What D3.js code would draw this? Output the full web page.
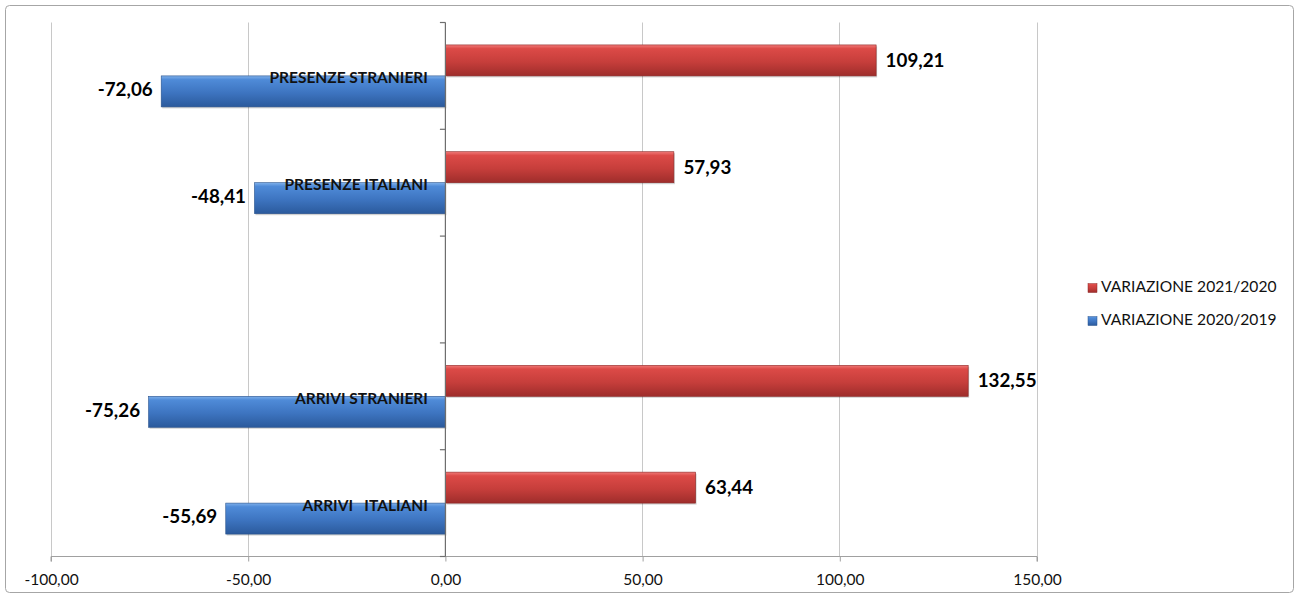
<!DOCTYPE html>
<html>
<head>
<meta charset="utf-8">
<script src="https://cdn.jsdelivr.net/npm/d3@7"></script>
<style>
  html, body { margin: 0; padding: 0; background: #fff; }
  svg { display: block; font-family: Lato, "Open Sans", sans-serif; }
</style>
</head>
<body>
<svg id="chart" width="1301" height="598"></svg>
<script>
// ---- data ----
const categories = ["PRESENZE STRANIERI", "PRESENZE ITALIANI", "", "ARRIVI STRANIERI", "ARRIVI   ITALIANI"];
const series = ["VARIAZIONE 2021/2020", "VARIAZIONE 2020/2019"];
const var2021_2020 = [109.21, 57.93, null, 132.55, 63.44];
const var2020_2019 = [-72.06, -48.41, null, -75.26, -55.69];
const xTicks = [-100, -50, 0, 50, 100, 150];

const svg = d3.select("#chart");
const fmt = v => d3.format(".2f")(v).replace("\u2212", "-").replace(".", ",");

// outer frame
svg.append("rect").attr("x", 5.5).attr("y", 5.5).attr("width", 1288).attr("height", 587)
  .attr("rx", 4).attr("fill", "#fff").attr("stroke", "#a6a6a6").attr("stroke-width", 1);

// gradients
const defs = svg.append("defs");
function grad(id, stops) {
  const g = defs.append("linearGradient").attr("id", id).attr("x1", 0).attr("y1", 0).attr("x2", 0).attr("y2", 1);
  stops.forEach(([o, c]) => g.append("stop").attr("offset", o).attr("stop-color", c));
}
grad("gRed", [[0, "#f07a78"], [0.12, "#dc4a47"], [0.55, "#c63e3b"], [1, "#9e2d2b"]]);
grad("gBlue", [[0, "#7fb0ea"], [0.12, "#4f8bd8"], [0.55, "#3d74c0"], [1, "#2b5a9c"]]);

const x = d3.scaleLinear().domain([-100, 150]).range([50.5, 1036.5]);
const y = d3.scaleBand().domain(categories.map((c, i) => i)).range([22.5, 556.5])
  .paddingInner(0.42).paddingOuter(0.21);
const sub = d3.scaleBand().domain([0, 1]).range([0, y.bandwidth()]);

// gridlines
svg.append("g").selectAll("line").data(xTicks).join("line")
  .attr("x1", d => Math.round(x(d)) + 0.5).attr("x2", d => Math.round(x(d)) + 0.5)
  .attr("y1", 22.5).attr("y2", 556.5)
  .attr("stroke", "#c8c8c8").attr("stroke-width", 1);

// x axis
const xAxis = svg.append("g").attr("transform", "translate(0.5,556.5)")
  .call(d3.axisBottom(x).tickValues(xTicks).tickSize(5).tickPadding(12).tickFormat(fmt));
xAxis.select(".domain").attr("stroke", "#a0a0a0").attr("d", `M${x(-100)},5V0H${x(150)}V5`);
xAxis.selectAll(".tick line").attr("stroke", "#a0a0a0");
xAxis.selectAll(".tick text").attr("font-size", 15.5).attr("fill", "#111")
  .attr("font-family", "Lato, sans-serif");

// bars
const rows = categories.map((c, i) => ({ i, c, a: var2021_2020[i], b: var2020_2019[i] }));
const barG = svg.append("g");
function drawBars(key, subIdx, fill) {
  const d = rows.filter(r => r[key] != null);
  // shadow
  barG.selectAll(null).data(d).join("rect")
    .attr("x", r => Math.min(x(0), x(r[key])) + 1.5)
    .attr("y", r => y(r.i) + sub(subIdx) + 1.5)
    .attr("width", r => Math.abs(x(r[key]) - x(0)))
    .attr("height", sub.bandwidth())
    .attr("fill", "#000").attr("opacity", 0.18);
  barG.selectAll(null).data(d).join("rect")
    .attr("x", r => Math.min(x(0), x(r[key])) + 0.5)
    .attr("y", r => y(r.i) + sub(subIdx))
    .attr("width", r => Math.abs(x(r[key]) - x(0)))
    .attr("height", sub.bandwidth())
    .attr("fill", fill)
    .attr("stroke", key === "a" ? "#8c2624" : "#27518c").attr("stroke-width", 0.6);
}
drawBars("a", 0, "url(#gRed)");
drawBars("b", 1, "url(#gBlue)");

// y axis
const yAxisG = svg.append("g");
yAxisG.append("line").attr("x1", x(0) + 0.5).attr("x2", x(0) + 0.5).attr("y1", 22.5).attr("y2", 556.5)
  .attr("stroke", "#6e6e6e").attr("stroke-width", 1.2);
const boundaries = d3.range(categories.length + 1).map(k => 22.5 + k * (534 / categories.length));
yAxisG.selectAll("line.tk").data(boundaries).join("line").attr("class", "tk")
  .attr("x1", x(0) - 5).attr("x2", x(0) + 0.5).attr("y1", d => d).attr("y2", d => d)
  .attr("stroke", "#6e6e6e").attr("stroke-width", 1.2);

// category labels
svg.append("g").selectAll("text").data(rows.filter(r => r.c)).join("text")
  .attr("x", x(0) - 17).attr("y", r => y(r.i) + sub(1) + 3.5)
  .attr("text-anchor", "end").attr("dominant-baseline", "middle")
  .attr("font-size", 15.5).attr("font-weight", "bold").attr("fill", "#111")
  .style("white-space", "pre").attr("xml:space", "preserve")
  .text(r => r.c);

// value labels
const vl = svg.append("g").attr("font-weight", "bold").attr("font-size", 18.8).attr("fill", "#000");
vl.selectAll(null).data(rows.filter(r => r.a != null)).join("text")
  .attr("x", r => x(r.a) + 10).attr("y", r => y(r.i) + sub(0) + sub.bandwidth() / 2 + 1.5)
  .attr("dominant-baseline", "middle").text(r => fmt(r.a));
vl.selectAll(null).data(rows.filter(r => r.b != null)).join("text")
  .attr("x", r => x(r.b) - 8).attr("y", r => y(r.i) + sub(1) + sub.bandwidth() / 2)
  .attr("text-anchor", "end").attr("dominant-baseline", "middle").text(r => fmt(r.b));

// legend
const leg = svg.append("g").attr("transform", "translate(1088,288)");
const legFill = ["url(#gRed)", "url(#gBlue)"];
series.forEach((s, k) => {
  const g = leg.append("g").attr("transform", `translate(0,${k * 33})`);
  g.append("rect").attr("x", 0).attr("y", -4.5).attr("width", 9).attr("height", 9)
    .attr("fill", legFill[k]).attr("stroke", k === 0 ? "#8c2624" : "#27518c").attr("stroke-width", 0.5);
  g.append("text").attr("x", 13).attr("y", 0).attr("dominant-baseline", "middle")
    .attr("font-size", 15.6).attr("fill", "#111").text(s);
});
</script>
</body>
</html>
